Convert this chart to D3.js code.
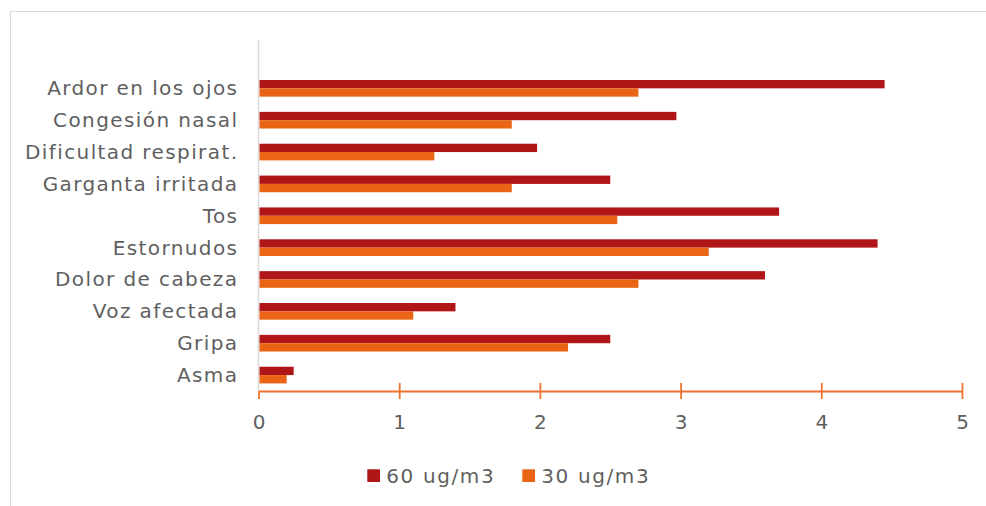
<!DOCTYPE html>
<html>
<head>
<meta charset="utf-8">
<script src="https://cdn.jsdelivr.net/npm/d3@7/dist/d3.min.js"></script>
<style>
  html, body { margin: 0; padding: 0; background: #fff; }
  svg { display: block; }
  text { font-family: "DejaVu Sans", "Noto Sans", sans-serif; fill: #5f5f5f; }
</style>
</head>
<body>
<div id="chart"></div>
<script>
// Symptoms reported under two exposure levels
const categories = [
  "Ardor en los ojos", "Congesión nasal", "Dificultad respirat.", "Garganta irritada",
  "Tos", "Estornudos", "Dolor de cabeza", "Voz afectada", "Gripa", "Asma"
];
const series60 = [4.45, 2.97, 1.98, 2.5, 3.7, 4.4, 3.6, 1.4, 2.5, 0.25];
const series30 = [2.7, 1.8, 1.25, 1.8, 2.55, 3.2, 2.7, 1.1, 2.2, 0.2];
const seriesNames = ["60 ug/m3", "30 ug/m3"];
const seriesColors = ["#B01618", "#E96414"];
const xTicks = [0, 1, 2, 3, 4, 5];

const W = 986, H = 506;
const svg = d3.select("#chart").append("svg").attr("width", W).attr("height", H);

// chart-area frame
svg.append("path")
  .attr("d", "M10.5,506 V11.5 H990")
  .attr("fill", "none").attr("stroke", "#D9D9D9").attr("stroke-width", 1.2);

const plot = { left: 258.5, right: 962, top: 72.4, bottom: 391 };

const x = d3.scaleLinear().domain([0, 5]).range([plot.left, plot.right]);
const y = d3.scaleBand().domain(categories).range([plot.top, plot.bottom])
  .paddingInner(0.477).paddingOuter(0.2385);
const inner = d3.scaleBand().domain([0, 1]).range([0, y.bandwidth()]);

// category axis line
svg.append("line")
  .attr("x1", plot.left).attr("x2", plot.left)
  .attr("y1", 40).attr("y2", plot.bottom)
  .attr("stroke", "#D9D9D9").attr("stroke-width", 1.5);

// bars
const data = categories.map((c, i) => ({ cat: c, vals: [series60[i], series30[i]] }));
const groups = svg.append("g").selectAll("g").data(data).join("g")
  .attr("transform", d => `translate(0,${y(d.cat)})`);
groups.selectAll("rect").data(d => d.vals.map((v, k) => ({ v, k }))).join("rect")
  .attr("x", x(0) + 1)
  .attr("y", d => inner(d.k))
  .attr("width", d => x(d.v) - x(0) - 1)
  .attr("height", inner.bandwidth())
  .attr("fill", d => seriesColors[d.k]);

// category labels (letter-spacing adds trailing space, so anchor a bit further right)
svg.append("g").selectAll("text").data(categories).join("text")
  .attr("x", 238.4)
  .attr("y", d => y(d) + y.bandwidth() / 2)
  .attr("text-anchor", "end")
  .attr("dominant-baseline", "central")
  .style("font-size", "20px")
  .style("letter-spacing", "1.4px")
  .text(d => d);

// value axis
const axis = d3.axisBottom(x).tickValues(xTicks).tickSize(8).tickSizeOuter(0).tickFormat(d3.format("d"));
const ax = svg.append("g").attr("transform", `translate(0,${plot.bottom})`).call(axis);
ax.select(".domain").attr("stroke", "#EE7330").attr("stroke-width", 1.8);
ax.selectAll(".tick line")
  .attr("stroke", "#EE7330").attr("stroke-width", 1.8)
  .attr("y1", d => d === 0 ? 0 : -8).attr("y2", 8);
ax.selectAll(".tick text")
  .attr("y", 31).attr("dy", "0.35em")
  .style("font-size", "20px")
  .style("font-family", "'DejaVu Sans', sans-serif")
  .attr("fill", "#5f5f5f");

// legend
const legendItems = [
  { name: seriesNames[0], color: seriesColors[0], x: 367.3 },
  { name: seriesNames[1], color: seriesColors[1], x: 522.3 }
];
const lg = svg.append("g").selectAll("g").data(legendItems).join("g")
  .attr("transform", d => `translate(${d.x},469.3)`);
lg.append("rect").attr("width", 12.7).attr("height", 12.7).attr("fill", d => d.color);
lg.append("text").attr("x", 19).attr("y", 6.5).attr("dominant-baseline", "central")
  .style("font-size", "20px").style("letter-spacing", "1.6px").text(d => d.name);
</script>
</body>
</html>
